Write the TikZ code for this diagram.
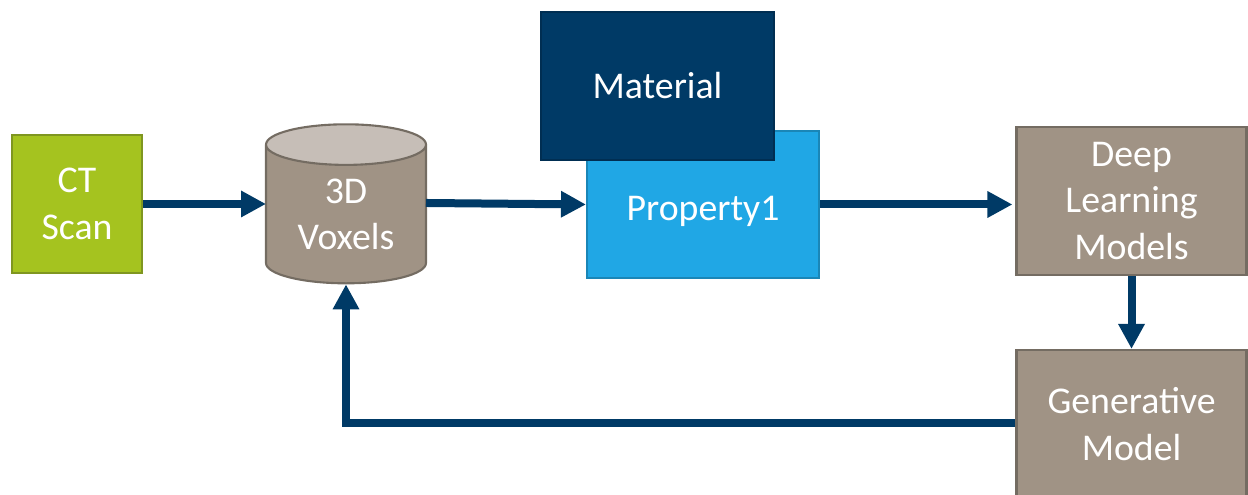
\documentclass[tikz,border=0pt]{standalone}
\usepackage{fontspec}
\setmainfont{Carlito}
\usetikzlibrary{arrows.meta,shapes.geometric}
\definecolor{navyblue}{HTML}{003A66}
\definecolor{brightblue}{HTML}{20A7E5}
\definecolor{limegreen}{HTML}{A5C31F}
\definecolor{limeedge}{HTML}{7F9620}
\definecolor{taupe}{HTML}{A09385}
\definecolor{taupeedge}{HTML}{746C62}
\definecolor{taupelight}{HTML}{C6BEB7}
\tikzset{
  box/.style={draw,rectangle,minimum width=2.3cm,minimum height=1.47cm,line width=0.6pt,
    text=white,align=center,font=\fontsize{10.75}{13.2}\selectfont},
  modelbox/.style={box,fill=taupe,draw=taupeedge},
  flow/.style={-{Triangle[length=0.25cm,width=0.25cm]},navyblue,line width=0.08cm}
}
\begin{document}
\begin{tikzpicture}
\useasboundingbox (0,0) rectangle (12.48,4.95);
\clip (0,0) rectangle (12.48,4.95);
\node[box,fill=limegreen,draw=limeedge,minimum width=1.3cm,minimum height=1.38cm] (ct) at (0.77,2.91) {CT\\Scan};
\node[draw=taupeedge,line width=0.6pt,shape=cylinder,shape border rotate=90,shape aspect=0.42,
  cylinder uses custom fill,cylinder body fill=taupe,cylinder end fill=taupelight,
  minimum width=1.6cm,minimum height=1.59cm,inner sep=0pt,
  text=white,align=center,font=\fontsize{10.75}{13.2}\selectfont] (voxels) at (3.46,2.805) {3D\\Voxels};
\node[box,fill=brightblue,draw=brightblue!80!black,minimum width=2.32cm,text height=8.9pt,text depth=0pt] (property) at (7.03,2.905) {Property1};
\node[box,fill=navyblue,draw=navyblue!80!black,minimum width=2.33cm,minimum height=1.48cm] (material) at (6.575,4.09) {Material};
\node[modelbox,minimum height=1.48cm] (deep) at (11.315,2.94) {Deep\\Learning\\Models};
\node[modelbox,minimum height=1.48cm] (generative) at (11.315,0.71) {Generative\\Model};
% arrows
\coordinate (voxelsin) at (2.66,2.91);
\coordinate (voxelsout) at (4.26,2.92);
\coordinate (corner) at (3.46,0.715);
\draw[flow] (ct.east |- voxelsin) -- (voxelsin);
\draw[flow] (voxelsout) -- (property.west);
\draw[flow,shorten >=0.03cm] (property.east) -- (deep.west |- property.east);
\draw[flow] (deep.south) -- (generative.north);
\draw[flow] (generative.west |- corner) -- (corner) -- (voxels.south);
\end{tikzpicture}
\end{document}
